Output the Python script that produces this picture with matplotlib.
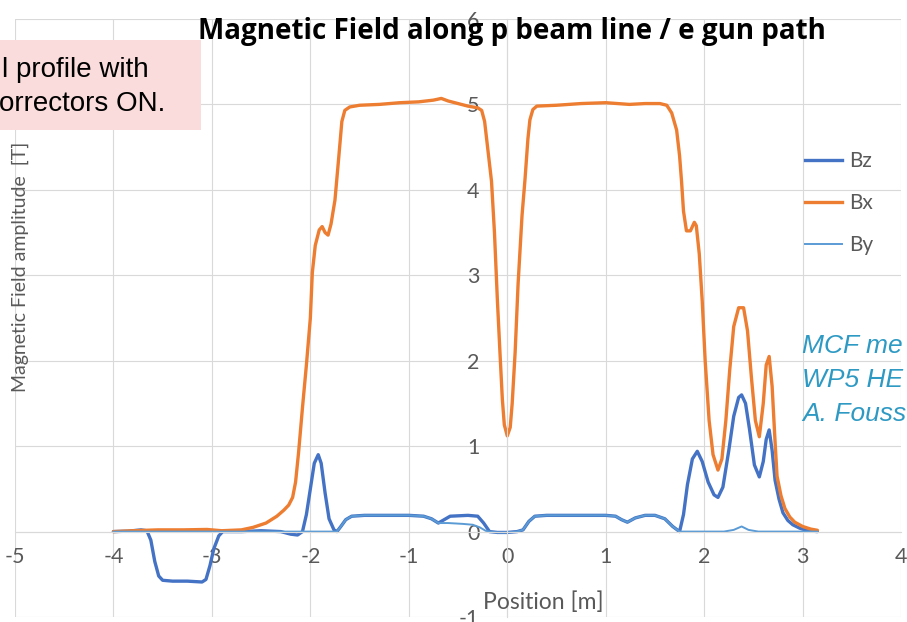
import matplotlib
matplotlib.use("Agg")
import matplotlib.pyplot as plt
from matplotlib.patches import Rectangle
from matplotlib.lines import Line2D

# Bz - longitudinal field
bz_x = [-4.0, -3.85, -3.72, -3.66, -3.62, -3.58, -3.54, -3.5, -3.4, -3.25, -3.1, -3.06, -3.02,
        -2.98, -2.93, -2.89, -2.7, -2.5, -2.3, -2.2, -2.13, -2.08, -2.04, -2.0, -1.96, -1.92,
        -1.89, -1.85, -1.81, -1.76, -1.73, -1.69, -1.64, -1.58, -1.45, -1.2, -1.0, -0.85, -0.77,
        -0.7, -0.64, -0.58, -0.4, -0.3, -0.24, -0.18, -0.1, 0.0, 0.1, 0.16, 0.22, 0.28, 0.4,
        0.7, 1.0, 1.1, 1.16, 1.22, 1.3, 1.4, 1.5, 1.6, 1.68, 1.75, 1.79, 1.83, 1.88, 1.93,
        1.98, 2.04, 2.1, 2.14, 2.19, 2.25, 2.3, 2.35, 2.38, 2.42, 2.46, 2.51, 2.56, 2.6, 2.63,
        2.66, 2.69, 2.72, 2.76, 2.8, 2.85, 2.9, 2.97, 3.05, 3.15]
bz_y = [0.0, 0.005, 0.02, 0.01, -0.1, -0.35, -0.52, -0.57, -0.58, -0.58, -0.59, -0.56, -0.4,
        -0.2, -0.05, 0.0, 0.0, 0.01, 0.0, -0.03, -0.04, 0.0, 0.2, 0.5, 0.8, 0.9,
        0.8, 0.45, 0.15, 0.02, 0.0, 0.06, 0.14, 0.18, 0.19, 0.19, 0.19, 0.18, 0.15,
        0.1, 0.14, 0.18, 0.19, 0.18, 0.1, 0.0, -0.01, -0.01, 0.0, 0.02, 0.12, 0.18, 0.19,
        0.19, 0.19, 0.18, 0.14, 0.11, 0.16, 0.19, 0.19, 0.15, 0.06, 0.0, 0.2, 0.55, 0.85, 0.94,
        0.82, 0.58, 0.43, 0.4, 0.52, 0.95, 1.35, 1.57, 1.6, 1.5, 1.2, 0.78, 0.64, 0.82, 1.08,
        1.19, 0.95, 0.6, 0.38, 0.22, 0.13, 0.08, 0.04, 0.01, 0.0]

# Bx - main dipole field
bx_x = [-4.0, -3.8, -3.55, -3.3, -3.05, -2.9, -2.7, -2.58, -2.45, -2.34, -2.27, -2.22, -2.18,
        -2.15, -2.12, -2.08, -2.04, -2.0, -1.98, -1.95, -1.91, -1.88, -1.85, -1.82, -1.79,
        -1.75, -1.71, -1.68, -1.65, -1.6, -1.5, -1.3, -1.09, -0.9, -0.75, -0.67, -0.6, -0.5,
        -0.4, -0.3, -0.26, -0.23, -0.2, -0.16, -0.13, -0.1, -0.07, -0.05, -0.03, 0.0, 0.03,
        0.05, 0.08, 0.11, 0.15, 0.18, 0.21, 0.23, 0.26, 0.3, 0.5, 0.75, 1.0, 1.24, 1.4, 1.55,
        1.62, 1.67, 1.72, 1.75, 1.77, 1.79, 1.82, 1.86, 1.9, 1.92, 1.95, 1.98, 2.01, 2.05,
        2.09, 2.14, 2.18, 2.22, 2.26, 2.3, 2.35, 2.4, 2.44, 2.48, 2.52, 2.56, 2.6, 2.63, 2.66,
        2.69, 2.72, 2.74, 2.78, 2.82, 2.87, 2.92, 3.0, 3.08, 3.15]
bx_y = [0.0, 0.01, 0.02, 0.02, 0.025, 0.01, 0.02, 0.05, 0.1, 0.18, 0.25, 0.31, 0.4,
        0.58, 0.92, 1.45, 1.95, 2.5, 3.03, 3.35, 3.53, 3.57, 3.5, 3.47, 3.6,
        3.88, 4.4, 4.8, 4.93, 4.97, 4.99, 5.0, 5.02, 5.03, 5.05, 5.07, 5.04, 5.01,
        4.98, 4.96, 4.93, 4.8, 4.5, 4.1, 3.5, 2.7, 2.0, 1.55, 1.25, 1.12, 1.22,
        1.5, 2.1, 2.9, 3.7, 4.12, 4.6, 4.82, 4.94, 4.98, 4.99, 5.01, 5.02, 5.0, 5.01, 5.01,
        4.99, 4.9, 4.7, 4.4, 4.1, 3.75, 3.52, 3.52, 3.62, 3.58, 3.25, 2.7, 2.0, 1.3,
        0.9, 0.72, 0.85, 1.3, 1.9, 2.4, 2.62, 2.62, 2.35, 1.8, 1.3, 1.11, 1.5, 1.95, 2.05,
        1.7, 1.05, 0.65, 0.42, 0.27, 0.17, 0.11, 0.06, 0.03, 0.015]

# By - vertical field
by_x = [-4.0, -3.0, -2.0, -1.73, -1.69, -1.64, -1.58, -1.45, -1.2, -1.0, -0.85, -0.77, -0.7,
        -0.6, -0.45, -0.35, -0.28, -0.22, -0.18, -0.1, 0.0, 0.1, 0.16, 0.22, 0.28, 0.4, 0.7,
        1.0, 1.1, 1.16, 1.22, 1.3, 1.4, 1.5, 1.6, 1.68, 1.75, 2.0, 2.2, 2.3, 2.38, 2.45,
        2.55, 2.8, 3.15]
by_y = [0.0, 0.0, 0.0, 0.0, 0.06, 0.14, 0.18, 0.19, 0.19, 0.19, 0.18, 0.15, 0.1,
        0.1, 0.09, 0.08, 0.05, 0.01, 0.0, -0.01, -0.01, 0.0, 0.02, 0.12, 0.18, 0.19, 0.19,
        0.19, 0.18, 0.14, 0.11, 0.16, 0.19, 0.19, 0.15, 0.06, 0.0, 0.0, 0.0, 0.02, 0.06, 0.02,
        0.0, 0.0, 0.0]

x_ticks = [-5, -4, -3, -2, -1, 0, 1, 2, 3, 4]
y_ticks = [-1, 0, 1, 2, 3, 4, 5, 6]

grey = '#595959'
plt.rcParams['font.family'] = ['Lato', 'DejaVu Sans']
plt.rcParams['axes.unicode_minus'] = False

fig = plt.figure(figsize=(9.07, 6.22), dpi=100)
ax = fig.add_axes([0.0165, 0.008, 0.977, 0.9615])

kw = dict(solid_capstyle='round', solid_joinstyle='round')
ax.plot(bz_x, bz_y, color='#4472C4', lw=2.4, **kw)
ax.plot(bx_x, bx_y, color='#ED7D31', lw=2.4, **kw)
ax.plot(by_x, by_y, color='#5B9BD5', lw=1.4, **kw)

ax.set_xlim(-5, 4)
ax.set_ylim(-1, 6)
ax.set_xticks(x_ticks)
ax.set_yticks(y_ticks)
ax.grid(True, color='#d9d9d9', lw=0.8)
ax.set_axisbelow(True)
for s in ['top', 'right']:
    ax.spines[s].set_visible(False)
ax.spines['left'].set_position(('data', 0))
ax.spines['bottom'].set_position(('data', 0))
ax.spines['left'].set_color('#d9d9d9')
ax.spines['bottom'].set_color('#d9d9d9')
ax.tick_params(axis='both', length=0, labelsize=15.5, labelcolor=grey)
ax.tick_params(axis='y', pad=20)
ax.tick_params(axis='x', pad=11)

fig.text(0.5645, 0.949, 'Magnetic Field along p beam line / e gun path',
         ha='center', va='center', fontsize=20, fontweight='bold', family='Open Sans',
         color='black')
fig.text(0.599, 0.032, 'Position [m]', ha='center', va='center', fontsize=16.5, color=grey)
fig.text(0.022, 0.571, 'Magnetic Field amplitude  [T]', ha='center', va='center',
         rotation=90, fontsize=14, color=grey)

handles = [Line2D([], [], color='#4472C4', lw=2.4),
           Line2D([], [], color='#ED7D31', lw=2.4),
           Line2D([], [], color='#5B9BD5', lw=1.4)]
ax.legend(handles, ['Bz', 'Bx', 'By'], loc='upper left', bbox_to_anchor=(0.8875, 0.757),
          bbox_transform=fig.transFigure, frameon=False, fontsize=15, labelcolor=grey,
          handlelength=1.8, handletextpad=0.3, labelspacing=1.05, borderpad=0,
          borderaxespad=0)

# pink note box (cut by the screenshot edge)
fig.add_artist(Rectangle((0, 1 - 130 / 622), 201 / 907, 90 / 622, transform=fig.transFigure,
                         facecolor='#F9DCDB', edgecolor='none', zorder=5))
fig.text(0.002, 1 - 70 / 622, 'l profile with', ha='left', va='center', fontsize=20,
         family='Liberation Sans', color='black', zorder=6)
fig.text(-0.001, 1 - 104 / 622, 'orrectors ON.', ha='left', va='center', fontsize=20,
         family='Liberation Sans', color='black', zorder=6)

# credit text (cut by the right edge)
for i, t in enumerate(['MCF me', 'WP5 HE', 'A. Fouss']):
    fig.text(802 / 907, 1 - (346 + 34 * i) / 622, t, ha='left', va='center', fontsize=19,
             family='Liberation Sans', style='italic', color='#2E9AC4')

fig.savefig('out.png', dpi=100)
